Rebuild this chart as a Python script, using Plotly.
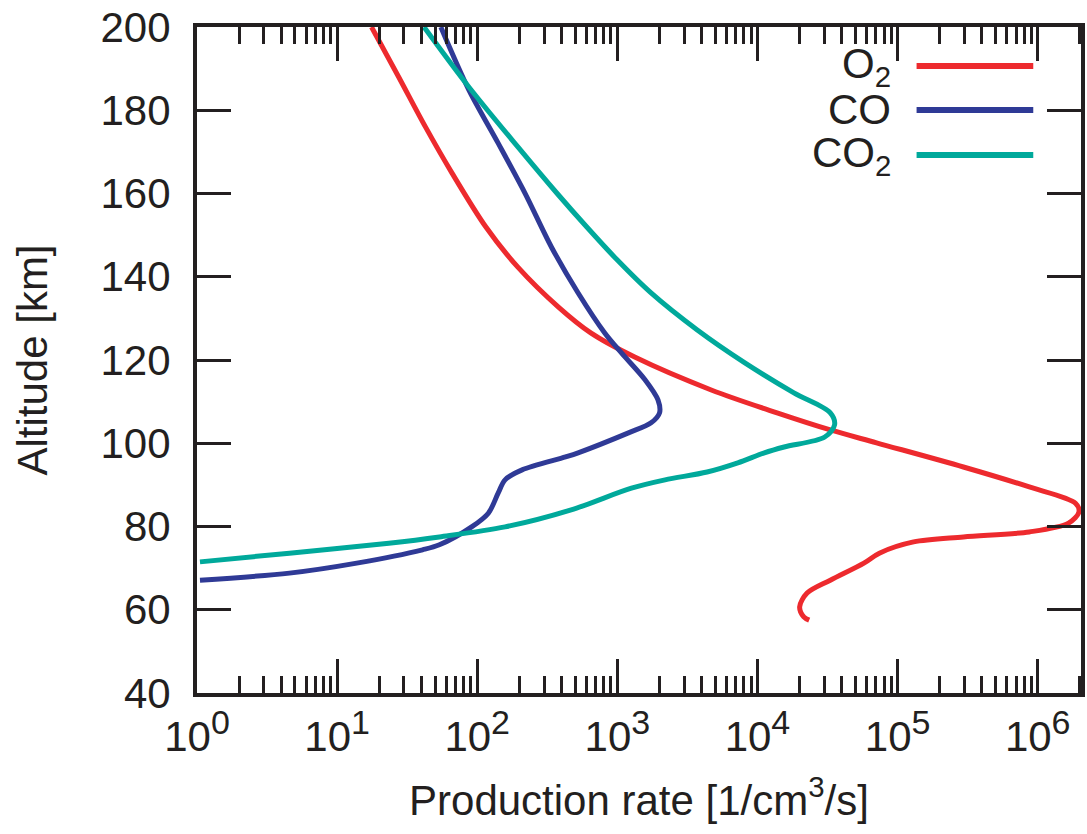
import plotly.graph_objects as go

# Production-rate profiles (1/cm^3/s) versus altitude (km)
o2_alt = [200, 188.0, 176.0, 164.9, 152.0, 142.3, 132.7, 126.5, 120.7, 112.8, 107.3,
          103.2, 100.1, 94.3, 89.5, 85.6, 83.5, 80.8, 78.7, 77.5, 76.3, 73.6, 71.2,
          67.1, 64.0, 60.7, 58.3, 57.5]
o2_rate = [17.6, 27.5, 42.7, 66.1, 115, 195, 380, 646, 1330, 4680, 13800,
           33100, 70800, 295000, 871000, 1860000, 1970000, 1660000, 871000, 295000,
           130000, 74100, 57500, 33100, 22600, 20000, 21400, 23400]

co_alt = [200, 184.9, 172.1, 160.1, 147.1, 136.1, 126.5, 121.7, 115.2, 110.4, 107.3,
          104.9, 102.5, 97.7, 96.7, 93.6, 91.2, 88.0, 83.2, 79.9, 75.6, 74.4,
          71.2, 68.8, 67.1]
co_rate = [55.0, 87.1, 141, 219, 339, 525, 813, 1070, 1580, 1950, 2000,
           1740, 1200, 525, 427, 209, 158, 141, 120, 91.2, 53.7, 40.7,
           13.8, 4.57, 1.05]

co2_alt = [200, 185.6, 171.2, 160.0, 152.0, 144.0, 136.1, 127.2, 119.3, 112.1, 107.3,
           104.4, 101.5, 99.1, 97.7, 95.3, 93.1, 91.2, 89.2, 84.0, 79.9, 77.5, 76.0,
           73.6, 71.5]
co2_rate = [41.7, 87.1, 195, 372, 603, 1000, 1740, 3720, 8130, 18200, 33100,
            35500, 30200, 15500, 11200, 7240, 4370, 2190, 1260, 468, 158, 53.7, 23.4,
            4.57, 1.05]

series = [
    ("O<sub>2</sub>", o2_rate, o2_alt, "#ED2A2E"),
    ("CO", co_rate, co_alt, "#2F3A96"),
    ("CO<sub>2</sub>", co2_rate, co2_alt, "#00A99B"),
]

x_tickvals = [1, 10, 100, 1e3, 1e4, 1e5, 1e6]
x_exponents = [0, 1, 2, 3, 4, 5, 6]
x_ticktext = [f"10<sup><span style='font-size:34px'>{e}</span></sup>" for e in x_exponents]
y_tickvals = [40, 60, 80, 100, 120, 140, 160, 180, 200]

INK = "#231F20"
FONT = "Liberation Sans, Arial, Helvetica, sans-serif"

fig = go.Figure()
for name, xs, ys, col in series:
    fig.add_trace(go.Scatter(x=xs, y=ys, mode="lines", name=name,
                             line=dict(color=col, width=5, shape="spline", smoothing=0.9),
                             showlegend=False))

# Key: label on the left, line sample on the right
key_y = [0.9414, 0.8754, 0.8078]
for (name, _, _, col), ky in zip(series, key_y):
    fig.add_shape(type="line", xref="paper", yref="paper",
                  x0=0.814, x1=0.946, y0=ky, y1=ky,
                  line=dict(color=col, width=6))
    fig.add_annotation(xref="paper", yref="paper", x=0.787, y=ky,
                       text=name, showarrow=False, xanchor="right", yanchor="middle",
                       font=dict(size=42, color=INK, family=FONT))

axis_common = dict(
    showline=True, linewidth=4, linecolor=INK, mirror="ticks",
    ticks="inside", tickwidth=3, tickcolor=INK, ticklen=34,
    showgrid=False, zeroline=False,
    tickfont=dict(size=42, color=INK, family=FONT),
)

fig.update_xaxes(type="log", range=[0, 6.309], tickvals=x_tickvals, ticktext=x_ticktext,
                 minor=dict(ticks="inside", ticklen=17, tickwidth=3, tickcolor=INK,
                            dtick="D1", showgrid=False),
                 title=dict(text="Production rate [1/cm<sup>3</sup>/s]",
                            font=dict(size=42, color=INK, family=FONT), standoff=27),
                 ticklabelstandoff=4,
                 **axis_common)
fig.update_yaxes(range=[40, 200], tickvals=y_tickvals,
                 title=dict(text="Altitude [km]",
                            font=dict(size=42, color=INK, family=FONT), standoff=41),
                 ticklabelstandoff=14,
                 **axis_common)

fig.update_layout(width=1087, height=834,
                  margin=dict(l=197, r=2, t=27, b=141),
                  plot_bgcolor="white", paper_bgcolor="white",
                  font=dict(family=FONT, color=INK))

fig.write_html("out.html")
